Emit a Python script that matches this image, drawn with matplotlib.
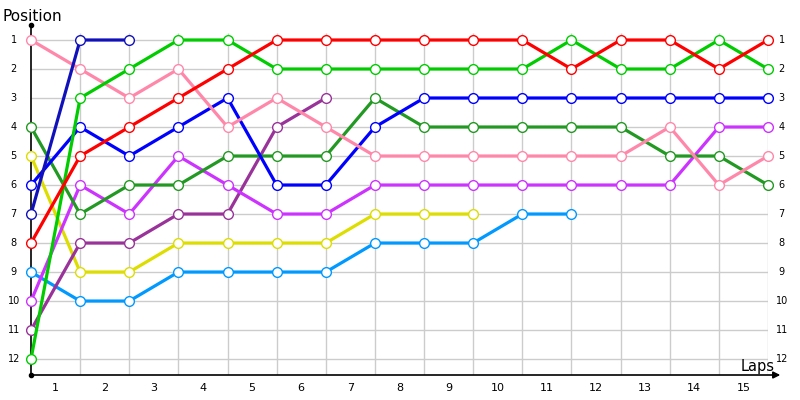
import matplotlib.pyplot as plt
import numpy as np

# positions per lap, lap 0 = start grid
red = [8, 5, 4, 3, 2, 1, 1, 1, 1, 1, 1, 2, 1, 1, 2, 1]
green = [12, 3, 2, 1, 1, 2, 2, 2, 2, 2, 2, 1, 2, 2, 1, 2]
navy = [7, 1, 1]
pink = [1, 2, 3, 2, 4, 3, 4, 5, 5, 5, 5, 5, 5, 4, 6, 5]
blue = [6, 4, 5, 4, 3, 6, 6, 4, 3, 3, 3, 3, 3, 3, 3, 3]
darkgreen = [4, 7, 6, 6, 5, 5, 5, 3, 4, 4, 4, 4, 4, 5, 5, 6]
yellow = [5, 9, 9, 8, 8, 8, 8, 7, 7, 7]
skyblue = [9, 10, 10, 9, 9, 9, 9, 8, 8, 8, 7, 7]
magenta = [10, 6, 7, 5, 6, 7, 7, 6, 6, 6, 6, 6, 6, 6, 4, 4]
purple = [11, 8, 8, 7, 7, 4, 3]

series = [
    (skyblue, "#0099ff"),
    (yellow, "#dddd00"),
    (purple, "#993399"),
    (magenta, "#cc33ff"),
    (darkgreen, "#229922"),
    (blue, "#0000ff"),
    (pink, "#ff88aa"),
    (navy, "#1111bb"),
    (green, "#00cc00"),
    (red, "#ff0000"),
]

n_laps = 15
n_pos = 12
lap_labels = [str(i) for i in range(1, n_laps + 1)]
pos_labels = [str(i) for i in range(1, n_pos + 1)]

fig = plt.figure(figsize=(8, 4), dpi=100)
ax = fig.add_axes([31 / 800, 25 / 400, 737 / 800, 350 / 400])
ax.set_xlim(0, n_laps)
ax.set_ylim(12.55, 0.483)
for s in ax.spines.values():
    s.set_visible(False)
ax.set_xticks([])
ax.set_yticks([])

# grid
grid_c = "#cccccc"
ax.hlines(range(1, n_pos + 1), 0, n_laps, color=grid_c, lw=1, zorder=0)
ax.vlines(range(1, n_laps + 1), 0.75, 12.55, color=grid_c, lw=1, zorder=0)

# axes lines
ax.plot([0, 0], [0.483, 12.55], color="black", lw=1.2, clip_on=False, zorder=1)
ax.annotate("", xy=(15.25, 12.55), xytext=(0, 12.55), xycoords="data",
            arrowprops=dict(arrowstyle="-|>", color="black", lw=1.2,
                            mutation_scale=10, shrinkA=0, shrinkB=0),
            annotation_clip=False)
ax.plot([0, 0], [0.483, 12.55], "o", color="black", ms=3, clip_on=False)

for vals, c in series:
    x = np.arange(len(vals))
    ax.plot(x, vals, color=c, lw=2.3, marker="o", ms=7, mfc="white",
            mec=c, mew=1.0, clip_on=False, zorder=3)

# labels
for i, lab in enumerate(lap_labels):
    ax.text(i + 0.5, 13.0, lab, ha="center", va="center", fontsize=8)
for i, lab in enumerate(pos_labels):
    ax.text(-0.35, i + 1, lab, ha="center", va="center", fontsize=7)
    ax.text(15.28, i + 1, lab, ha="center", va="center", fontsize=7)

fig.text(3 / 800, 1 - 21 / 400, "Position", fontsize=11, ha="left",
         va="baseline")
fig.text(775 / 800, 1 - 371 / 400, "Laps", fontsize=10.5, ha="right",
         va="baseline")

fig.savefig("out.png", dpi=100)
